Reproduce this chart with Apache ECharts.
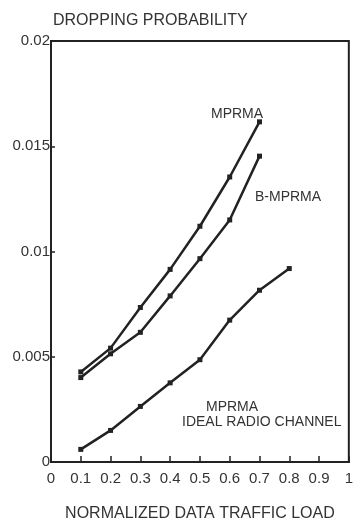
<!DOCTYPE html>
<html>
<head>
<meta charset="utf-8">
<script src="https://cdn.jsdelivr.net/npm/echarts@6/dist/echarts.min.js"></script>
<style>
html, body { margin: 0; padding: 0; background: #fff; }
#chart { width: 356px; height: 527px; }
</style>
</head>
<body>
<div id="chart"></div>
<script>
var loads = [0.1, 0.2, 0.3, 0.4, 0.5, 0.6, 0.7, 0.8];
var mprma = [0.00428, 0.00541, 0.00734, 0.00915, 0.0112, 0.01354, 0.01616];
var bMprma = [0.00401, 0.00514, 0.00616, 0.00789, 0.00966, 0.0115, 0.01453];
var ideal = [0.0006, 0.0015, 0.00264, 0.00376, 0.00486, 0.00674, 0.00816, 0.00919];

function pairs(vals) {
    return vals.map(function (v, i) { return [loads[i], v]; });
}

var font = 'Liberation Sans, Arial, sans-serif';
var ink = '#222';

var line = {
    type: 'line',
    symbol: 'rect',
    symbolSize: 5,
    lineStyle: { color: ink, width: 2.5 },
    itemStyle: { color: ink },
    animation: false
};

var chart = echarts.init(document.getElementById('chart'));
chart.setOption({
    backgroundColor: '#fff',
    grid: {
        left: 51, right: 3, top: 41, bottom: 61,
        show: true, borderColor: ink, borderWidth: 2
    },
    title: {
        text: 'DROPPING PROBABILITY',
        left: 48, top: 8,
        textStyle: { fontFamily: font, fontSize: 16, fontWeight: 'normal', color: '#333' }
    },
    xAxis: {
        type: 'value', min: 0, max: 1, interval: 0.1,
        name: 'NORMALIZED DATA TRAFFIC LOAD',
        nameLocation: 'middle', nameGap: 44,
        nameTextStyle: { fontFamily: font, fontSize: 16, color: '#333' },
        axisLine: { lineStyle: { color: ink, width: 2 } },
        axisTick: { inside: true, length: 6, lineStyle: { color: ink, width: 1.5 } },
        axisLabel: { fontFamily: font, fontSize: 15, color: '#333', margin: 9 },
        splitLine: { show: false }
    },
    yAxis: {
        type: 'value', min: 0, max: 0.02, interval: 0.005,
        axisLine: { show: true, lineStyle: { color: ink, width: 2 } },
        axisTick: { show: true, inside: true, length: 4, lineStyle: { color: ink, width: 1.5 } },
        axisLabel: { fontFamily: font, fontSize: 15, color: '#333', margin: 1 },
        splitLine: { show: false }
    },
    series: [
        Object.assign({ name: 'MPRMA', data: pairs(mprma) }, line),
        Object.assign({ name: 'B-MPRMA', data: pairs(bMprma) }, line),
        Object.assign({ name: 'MPRMA IDEAL RADIO CHANNEL', data: pairs(ideal) }, line)
    ],
    graphic: [
        { type: 'text', left: 211, top: 107,
          style: { text: 'MPRMA', font: '14px ' + font, fill: '#333' } },
        { type: 'text', left: 255, top: 190,
          style: { text: 'B-MPRMA', font: '14px ' + font, fill: '#333' } },
        { type: 'text', left: 206, top: 400,
          style: { text: 'MPRMA', font: '14px ' + font, fill: '#333' } },
        { type: 'text', left: 182, top: 415,
          style: { text: 'IDEAL RADIO CHANNEL', font: '14px ' + font, fill: '#333' } }
    ]
});
</script>
</body>
</html>
